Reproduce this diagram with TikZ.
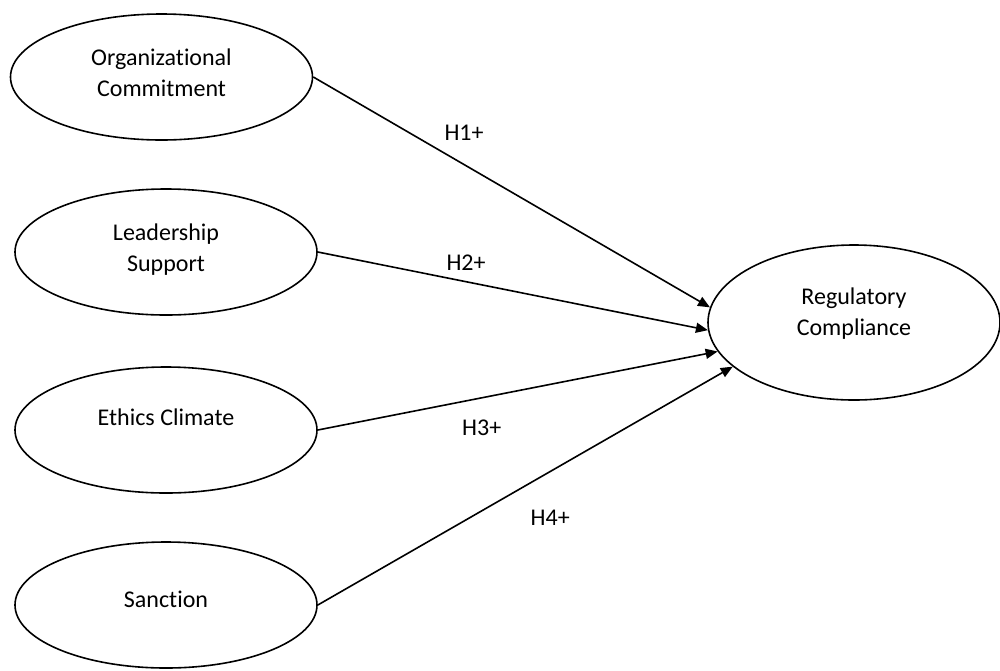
\documentclass[tikz,border=0pt]{standalone}
\usepackage{fontspec}
\setmainfont{Carlito}[Ligatures={NoCommon,NoRequired,NoContextual}]
\usetikzlibrary{shapes.geometric, arrows.meta}
\tikzstyle{construct} = [ellipse, draw=black, thick, minimum width=151pt,
    minimum height=63pt, inner sep=0pt, align=center, text depth=4pt,
    font=\fontsize{12}{15.5}\selectfont]
\tikzstyle{outcome} = [construct, minimum width=146pt, minimum height=77.5pt, text depth=11pt]
\tikzstyle{arrow} = [thick,-{Triangle[length=6pt,width=5pt]}]
\tikzstyle{hyp} = [font=\fontsize{12}{14}\selectfont]

\begin{document}
\begin{tikzpicture}[x=0.5pt, y=-0.5pt, node distance=87.5pt]
    \useasboundingbox (0,0) rectangle (1000,670);

    % predictor nodes
    \node (OrgCommit) [construct] at (161.5,77) {Organizational\\Commitment};
    \node (LeadSupport) [construct, below of=OrgCommit, xshift=2.25pt] {Leadership\\Support};
    \node (EthicsClimate) [construct, below of=LeadSupport, yshift=-1.5pt, text depth=13pt] {Ethics Climate};
    \node (Sanction) [construct, below of=EthicsClimate, text depth=6pt] {Sanction};

    % outcome node
    \node (RegCompliance) [outcome] at (854,322.5) {Regulatory\\Compliance};

    % arrows
    \draw [arrow] (OrgCommit.east) -- node [hyp, pos=0.38, yshift=16pt] (H1) {H1+} (RegCompliance.174);
    \draw [arrow] (LeadSupport.east) -- node [hyp, pos=0.38, yshift=9.5pt] (H2) {H2+} (RegCompliance.183);
    \draw [arrow] (EthicsClimate.east) -- node [hyp, pos=0.41, yshift=-14.75pt] (H3) {H3+} (RegCompliance.192);
    \draw [arrow] (Sanction.east) -- node [hyp, pos=0.56, yshift=-23pt] (H4) {H4+} (RegCompliance.200);
\end{tikzpicture}
\end{document}
